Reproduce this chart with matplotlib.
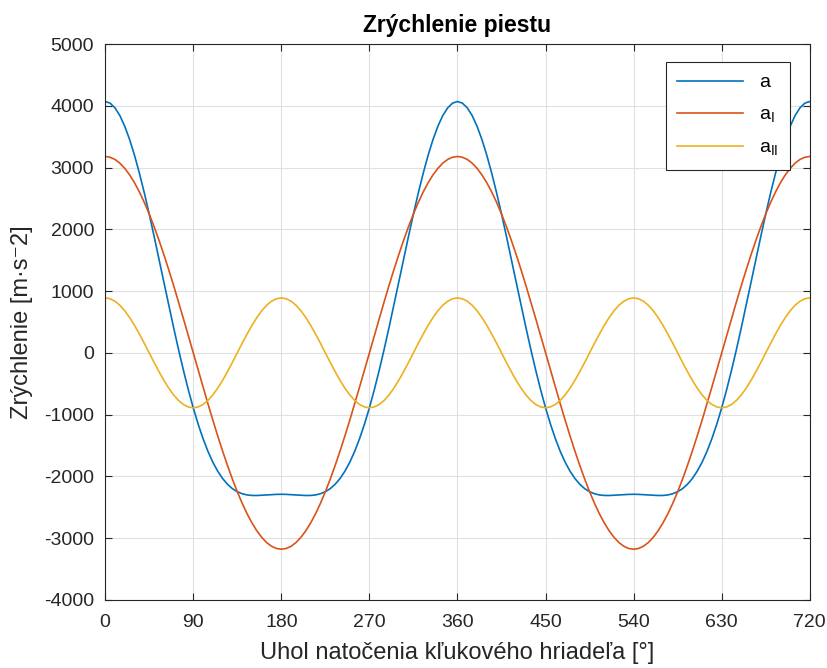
import numpy as np
from matplotlib import pyplot as plt

plt.rcParams['font.family'] = ['Liberation Sans', 'DejaVu Sans']
plt.rcParams['axes.unicode_minus'] = False

# uhol natocenia [deg], krok 5
uhol = list(range(0, 721, 5))

# a_I (1. harmonicka)
a_I = [3180, 3168, 3132, 3072, 2988, 2882, 2754, 2605, 2436, 2249, 2044, 1824, 1590, 1344, 1088, 823, 552, 277,
       0, -277, -552, -823, -1088, -1344, -1590, -1824, -2044, -2249, -2436, -2605, -2754, -2882, -2988, -3072, -3132, -3168,
       -3180, -3168, -3132, -3072, -2988, -2882, -2754, -2605, -2436, -2249, -2044, -1824, -1590, -1344, -1088, -823, -552, -277,
       0, 277, 552, 823, 1088, 1344, 1590, 1824, 2044, 2249, 2436, 2605, 2754, 2882, 2988, 3072, 3132, 3168,
       3180, 3168, 3132, 3072, 2988, 2882, 2754, 2605, 2436, 2249, 2044, 1824, 1590, 1344, 1088, 823, 552, 277,
       0, -277, -552, -823, -1088, -1344, -1590, -1824, -2044, -2249, -2436, -2605, -2754, -2882, -2988, -3072, -3132, -3168,
       -3180, -3168, -3132, -3072, -2988, -2882, -2754, -2605, -2436, -2249, -2044, -1824, -1590, -1344, -1088, -823, -552, -277,
       0, 277, 552, 823, 1088, 1344, 1590, 1824, 2044, 2249, 2436, 2605, 2754, 2882, 2988, 3072, 3132, 3168,
       3180]

# a_II (2. harmonicka)
a_II = [890, 876, 836, 771, 682, 572, 445, 304, 155, 0, -155, -304, -445, -572, -682, -771, -836, -876,
        -890, -876, -836, -771, -682, -572, -445, -304, -155, 0, 155, 304, 445, 572, 682, 771, 836, 876,
        890, 876, 836, 771, 682, 572, 445, 304, 155, 0, -155, -304, -445, -572, -682, -771, -836, -876,
        -890, -876, -836, -771, -682, -572, -445, -304, -155, 0, 155, 304, 445, 572, 682, 771, 836, 876,
        890, 876, 836, 771, 682, 572, 445, 304, 155, 0, -155, -304, -445, -572, -682, -771, -836, -876,
        -890, -876, -836, -771, -682, -572, -445, -304, -155, 0, 155, 304, 445, 572, 682, 771, 836, 876,
        890, 876, 836, 771, 682, 572, 445, 304, 155, 0, -155, -304, -445, -572, -682, -771, -836, -876,
        -890, -876, -836, -771, -682, -572, -445, -304, -155, 0, 155, 304, 445, 572, 682, 771, 836, 876,
        890]

# a (celkove zrychlenie)
a = [4070, 4044, 3968, 3843, 3670, 3454, 3199, 2909, 2591, 2249, 1889, 1520, 1145, 772, 406, 52, -284, -599,
     -890, -1153, -1388, -1594, -1770, -1916, -2035, -2128, -2199, -2249, -2281, -2301, -2309, -2310, -2306, -2301, -2296, -2292,
     -2290, -2292, -2296, -2301, -2306, -2310, -2309, -2301, -2281, -2249, -2199, -2128, -2035, -1916, -1770, -1594, -1388, -1153,
     -890, -599, -284, 52, 406, 772, 1145, 1520, 1889, 2249, 2591, 2909, 3199, 3454, 3670, 3843, 3968, 4044,
     4070, 4044, 3968, 3843, 3670, 3454, 3199, 2909, 2591, 2249, 1889, 1520, 1145, 772, 406, 52, -284, -599,
     -890, -1153, -1388, -1594, -1770, -1916, -2035, -2128, -2199, -2249, -2281, -2301, -2309, -2310, -2306, -2301, -2296, -2292,
     -2290, -2292, -2296, -2301, -2306, -2310, -2309, -2301, -2281, -2249, -2199, -2128, -2035, -1916, -1770, -1594, -1388, -1153,
     -890, -599, -284, 52, 406, 772, 1145, 1520, 1889, 2249, 2591, 2909, 3199, 3454, 3670, 3843, 3968, 4044,
     4070]

fig = plt.figure(figsize=(8.28, 6.68), dpi=100)
ax = fig.add_axes([0.127, 0.102, 0.851, 0.832])

ax.plot(uhol, a, color='#0072BD', lw=1.2, label='a')
ax.plot(uhol, a_I, color='#D95319', lw=1.2, label=r'a$_\mathregular{I}$')
ax.plot(uhol, a_II, color='#EDB120', lw=1.2, label=r'a$_\mathregular{II}$')

ax.set_xlim(0, 720)
ax.set_ylim(-4000, 5000)
ax.set_xticks(range(0, 721, 90))
ax.set_yticks(range(-4000, 5001, 1000))
ax.grid(color='#e0e0e0', lw=0.8)
ax.set_axisbelow(True)
ax.tick_params(direction='in', top=True, right=True, labelsize=14, length=5, colors='#262626')
ax.tick_params(axis='x', pad=10)
ax.tick_params(axis='y', pad=8)
for s in ax.spines.values():
    s.set_color('#262626')
    s.set_linewidth(0.8)

ax.set_title('Zrýchlenie piestu', fontsize=16.5, fontweight='bold', pad=9)
ax.set_xlabel('Uhol natočenia kľukového hriadeľa [°]', fontsize=17, color='#262626', labelpad=8)
ax.set_ylabel('Zrýchlenie [m·s⁻2]', fontsize=17, color='#262626', labelpad=8)

leg = ax.legend(loc='upper right', bbox_to_anchor=(0.9716, 0.9676), borderaxespad=0,
                fontsize=14, fancybox=False, framealpha=1, edgecolor='#262626',
                handlelength=3.4, labelspacing=0.75, borderpad=0.6)
leg.get_frame().set_linewidth(0.8)

fig.savefig('out.png', dpi=100)
